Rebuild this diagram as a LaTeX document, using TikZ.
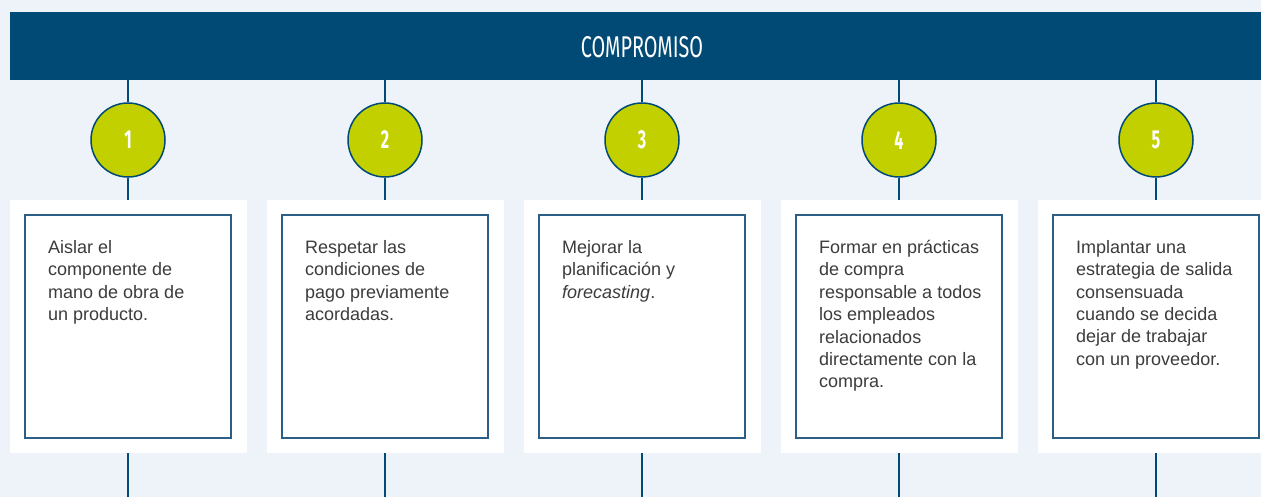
\documentclass[tikz,border=0pt]{standalone}
\usepackage{fontspec}
\setmainfont{Liberation Sans}
\newfontfamily\headfont{Fira Sans}
\definecolor{bg}{HTML}{EEF2F9}
\definecolor{navy}{HTML}{004A75}
\definecolor{lime}{HTML}{C2D000}
\definecolor{boxline}{HTML}{2B5F85}
\definecolor{txt}{HTML}{3C3C3C}
\tikzset{
  x=1pt, y=-1pt,
  header/.style={fill=navy, draw=none, minimum width=1251pt, minimum height=68pt, anchor=north west, inner sep=0pt},
  numcircle/.style={circle, fill=lime, draw=navy, line width=1.5pt, minimum size=74pt, inner sep=0pt, text=white, font=\headfont\bfseries\fontsize{26}{26}\selectfont},
  outerbox/.style={fill=white, draw=none, minimum width=237pt, minimum height=253pt, inner sep=0pt},
  innerbox/.style={fill=white, draw=boxline, line width=1.3pt, minimum width=206pt, minimum height=223pt, inner sep=0pt},
  bodytext/.style={anchor=north west, inner sep=0pt, align=left, text=txt, font=\fontsize{18}{22.4}\selectfont},
  link/.style={draw=navy, line width=2pt},
}
\newcommand{\cond}[1]{\scalebox{0.62}[1]{#1}}
\begin{document}
\begin{tikzpicture}
\useasboundingbox[fill=bg] (0,0) rectangle (1261,497);
\clip (0,0) rectangle (1261,497);
\node[header] (head) at (10,12) {};
\node[text=white, font=\headfont\fontsize{30}{30}\selectfont] (htitle) at (642,47) {\scalebox{0.66}[1]{COMPROMISO}};
\foreach \i/\x in {1/128,2/385,3/642,4/899,5/1156}{
  \coordinate (top\i) at (\x,80);
  \coordinate (bot\i) at (\x,497);
  \node[outerbox] (ob\i) at (\x+0.5,326.5) {};
  \node[numcircle] (c\i) at (\x,140) {\cond{\i}};
  \draw[link] (top\i) -- (c\i.north);
  \draw[link] (c\i.south) -- (ob\i.north -| c\i);
  \draw[link] (ob\i.south -| c\i) -- (bot\i);
  \node[innerbox] (ib\i) at (\x,326.5) {};
}
\node[bodytext] (t1) at (48,240) {Aislar el\\componente de\\mano de obra de\\un producto.};
\node[bodytext] (t2) at (305,240) {Respetar las\\condiciones de\\pago previamente\\acordadas.};
\node[bodytext] (t3) at (562,240) {Mejorar la\\planificación y\\\textit{forecasting}.};
\node[bodytext] (t4) at (819,240) {Formar en prácticas\\de compra\\responsable a todos\\los empleados\\relacionados\\directamente con la\\compra.};
\node[bodytext] (t5) at (1076,240) {Implantar una\\estrategia de salida\\consensuada\\cuando se decida\\dejar de trabajar\\con un proveedor.};
\end{tikzpicture}
\end{document}
